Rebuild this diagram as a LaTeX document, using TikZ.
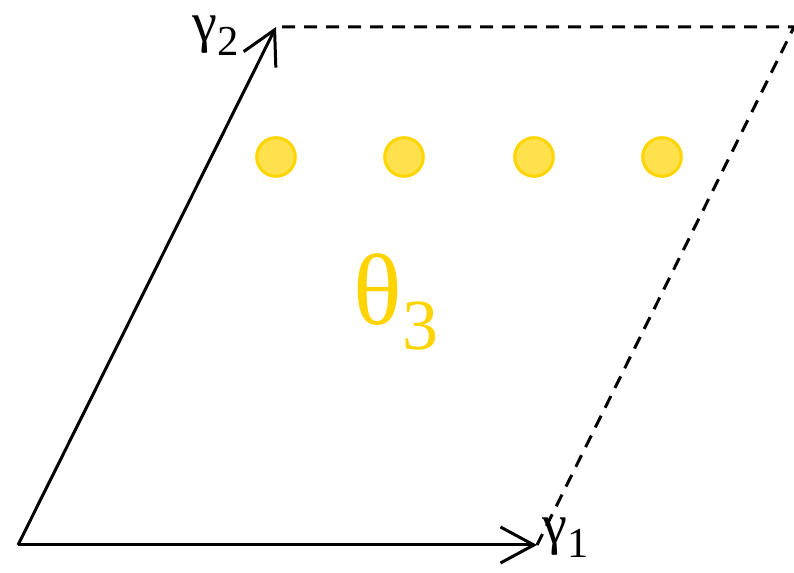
\documentclass[tikz,border=0pt]{standalone}
\usepackage{fontspec}
\setmainfont{Liberation Serif}
\usetikzlibrary{arrows.meta}
\definecolor{dotfill}{HTML}{FFE04D}
\definecolor{dotedge}{HTML}{FFD500}
\definecolor{thetacol}{HTML}{FFD400}
\tikzset{
  vec/.style={line width=2.25pt, -{Straight Barb[length=25pt,width=27pt,line width=2.25pt]}},
  edge/.style={line width=2.25pt, dash pattern=on 9.75pt off 6.75pt},
  dot/.style={circle, fill=dotfill, draw=dotedge, line width=2.25pt, minimum size=29pt, inner sep=0pt},
  glab/.style={inner sep=0pt, font=\fontsize{42}{46}\selectfont},
}
\begin{document}
\begin{tikzpicture}[x=0.75pt,y=-0.75pt]
\useasboundingbox (0,0) rectangle (794,573);
\coordinate (O) at (18,545);
\coordinate (G1) at (537,545);
\coordinate (G2) at (276,27);
\coordinate (C) at (794,27);
\draw[vec] (O) -- (G1);
\draw[vec] (O) -- (G2);
\draw[edge] (282,27) -- (C) -- (G1);
\node[dot] (d1) at (276,157) {};
\node[dot] (d2) at (404,157) {};
\node[dot] (d3) at (534,157) {};
\node[dot] (d4) at (662,157) {};
\node[glab] (l2) at (216,36) {γ\raisebox{-0.25em}{\fontsize{32}{34}\selectfont 2}};
\node[glab] (l1) at (566,538) {γ\raisebox{-0.25em}{\fontsize{32}{34}\selectfont 1}};
\node[inner sep=0pt, text=thetacol, font=\fontsize{76}{84}\selectfont] (th) at (396,302) {θ\raisebox{-0.25em}{\fontsize{54}{58}\selectfont 3}};
\end{tikzpicture}
\end{document}
